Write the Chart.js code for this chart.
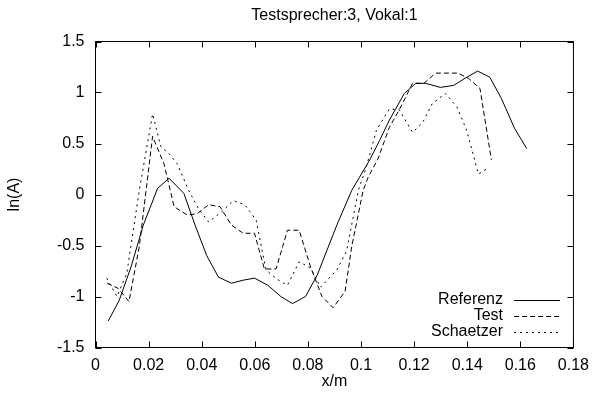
<!DOCTYPE html>
<html><head><meta charset="utf-8">
<script src="https://cdn.jsdelivr.net/npm/chart.js@4.4.1/dist/chart.umd.min.js"></script>
<style>html,body{margin:0;padding:0;background:#fff}</style>
</head><body>
<canvas id="c" width="597" height="398"></canvas>
<script>
// ---- data ----
const chartTitle = "Testsprecher:3, Vokal:1";
const xAxisTitle = "x/m";
const yAxisTitle = "ln(A)";
const seriesNames = ["Referenz", "Test", "Schaetzer"];
const xTickLabels = ["0","0.02","0.04","0.06","0.08","0.1","0.12","0.14","0.16","0.18"];
const yTickLabels = ["-1.5","-1","-0.5","0","0.5","1","1.5"];

const referenzX = [0.0048,0.0089,0.0135,0.0180,0.0234,0.0277,0.0333,0.0375,0.0419,0.0463,0.0512,0.0556,0.0599,0.0649,0.0698,0.0742,0.0791,0.0835,0.0909,0.0965,0.1033,0.1070,0.1107,0.1163,0.1206,0.1243,0.1299,0.1349,0.1392,0.1439,0.1485,0.1529,0.1578,0.1624];
const referenzY = [-1.24,-1.04,-0.70,-0.30,0.06,0.16,0.01,-0.30,-0.60,-0.81,-0.87,-0.84,-0.82,-0.89,-1.00,-1.07,-1.00,-0.79,-0.30,0.04,0.34,0.53,0.73,0.99,1.09,1.09,1.05,1.07,1.14,1.21,1.15,0.94,0.65,0.45];

const testX = [0.0044,0.0085,0.0126,0.0165,0.0215,0.0258,0.0296,0.0345,0.0382,0.0426,0.0469,0.0512,0.0556,0.0599,0.0636,0.0680,0.0723,0.0767,0.0810,0.0853,0.0895,0.0940,0.0965,0.1008,0.1027,0.1064,0.1107,0.1144,0.1194,0.1237,0.1281,0.1365,0.1404,0.1448,0.1491];
const testY = [-0.87,-0.92,-1.05,-0.51,0.57,0.30,-0.12,-0.20,-0.19,-0.10,-0.12,-0.30,-0.38,-0.38,-0.73,-0.73,-0.35,-0.35,-0.71,-1.00,-1.11,-0.95,-0.51,0.04,0.17,0.35,0.66,0.83,1.09,1.09,1.19,1.19,1.14,1.04,0.34];

const schaetzerX = [0.0042,0.0081,0.0118,0.0165,0.0215,0.0246,0.0277,0.0308,0.0351,0.0388,0.0426,0.0475,0.0519,0.0562,0.0605,0.0642,0.0683,0.0723,0.0767,0.0810,0.0847,0.0909,0.0946,0.0990,0.1020,0.1058,0.1107,0.1144,0.1194,0.1231,0.1268,0.1318,0.1361,0.1398,0.1442,0.1479];
const schaetzerY = [-0.82,-1.00,-0.77,0.04,0.79,0.47,0.40,0.30,0.04,-0.14,-0.27,-0.17,-0.06,-0.10,-0.25,-0.74,-0.83,-0.89,-0.66,-0.72,-0.91,-0.74,-0.55,0.04,0.27,0.63,0.84,0.83,0.61,0.70,0.89,0.99,0.86,0.63,0.20,0.26];

const FONT = '"Liberation Sans", Arial, Helvetica, sans-serif';
const dashes = [[], [5,3], [2,4]];

function pts(xs, ys){ return xs.map((x,i)=>({x:x, y:ys[i]})); }
function lbl(arr, v){ for (const s of arr){ if (Math.abs(parseFloat(s)-v) < 1e-6) return s; } return ''; }

const framePlugin = {
  id: 'frame',
  afterDraw(chart){
    const ctx = chart.ctx, a = chart.chartArea;
    const xs = chart.scales.x, ys = chart.scales.y;
    ctx.save();
    ctx.strokeStyle = '#000'; ctx.lineWidth = 1; ctx.setLineDash([]);
    ctx.strokeRect(a.left, a.top, a.right - a.left, a.bottom - a.top);
    const t = 6;
    ctx.beginPath();
    xTickLabels.forEach(s => {
      const px = Math.round(xs.getPixelForValue(parseFloat(s))) + 0.5;
      ctx.moveTo(px, a.bottom); ctx.lineTo(px, a.bottom - t);
      ctx.moveTo(px, a.top); ctx.lineTo(px, a.top + t);
    });
    yTickLabels.forEach(s => {
      const py = Math.round(ys.getPixelForValue(parseFloat(s))) + 0.5;
      ctx.moveTo(a.left, py); ctx.lineTo(a.left + t, py);
      ctx.moveTo(a.right, py); ctx.lineTo(a.right - t, py);
    });
    ctx.stroke();
    // texts
    ctx.fillStyle = '#000';
    ctx.font = '16px ' + FONT;
    ctx.textAlign = 'center'; ctx.textBaseline = 'middle';
    ctx.fillText(chartTitle, (a.left + a.right) / 2, 16);
    ctx.fillText(xAxisTitle, (a.left + a.right) / 2, 382);
    ctx.save();
    ctx.translate(15, (a.top + a.bottom) / 2);
    ctx.rotate(-Math.PI / 2);
    ctx.fillText(yAxisTitle, 0, 0);
    ctx.restore();
    // legend
    const lx = 503, ly0 = 300, dy = 16;
    seriesNames.forEach((n, i) => {
      const y = ly0 + i * dy;
      ctx.textAlign = 'right';
      ctx.fillText(n, lx, y);
      ctx.beginPath();
      ctx.setLineDash(dashes[i]);
      ctx.moveTo(514, Math.round(y) + 0.5); ctx.lineTo(560, Math.round(y) + 0.5);
      ctx.stroke();
      ctx.setLineDash([]);
    });
    ctx.restore();
  }
};

const series = [pts(referenzX, referenzY), pts(testX, testY), pts(schaetzerX, schaetzerY)];

new Chart(document.getElementById('c'), {
  type: 'scatter',
  data: {
    datasets: series.map((d, i) => ({
      label: seriesNames[i], data: d, showLine: true,
      borderColor: '#000', backgroundColor: '#000', borderWidth: 1,
      borderDash: dashes[i], pointRadius: 0, tension: 0, fill: false
    }))
  },
  options: {
    responsive: false, animation: false, devicePixelRatio: 1,
    layout: { padding: { top: 41.5, right: 17.5, left: 0, bottom: 0 } },
    plugins: { legend: { display: false }, title: { display: false }, tooltip: { enabled: false } },
    scales: {
      x: {
        type: 'linear', min: 0, max: 0.18,
        grid: { display: false, drawTicks: false }, border: { display: false },
        ticks: { stepSize: 0.02, color: '#000', font: { size: 16, family: FONT }, padding: 8, maxRotation: 0,
          callback: v => lbl(xTickLabels, v) },
        afterFit(s){ s.height = 50.5; }
      },
      y: {
        min: -1.5, max: 1.5,
        grid: { display: false, drawTicks: false }, border: { display: false },
        ticks: { stepSize: 0.5, color: '#000', font: { size: 16, family: FONT }, padding: 11,
          callback: v => lbl(yTickLabels, v) },
        afterFit(s){ s.width = 95.5; }
      }
    }
  },
  plugins: [framePlugin]
});
</script>
</body></html>
